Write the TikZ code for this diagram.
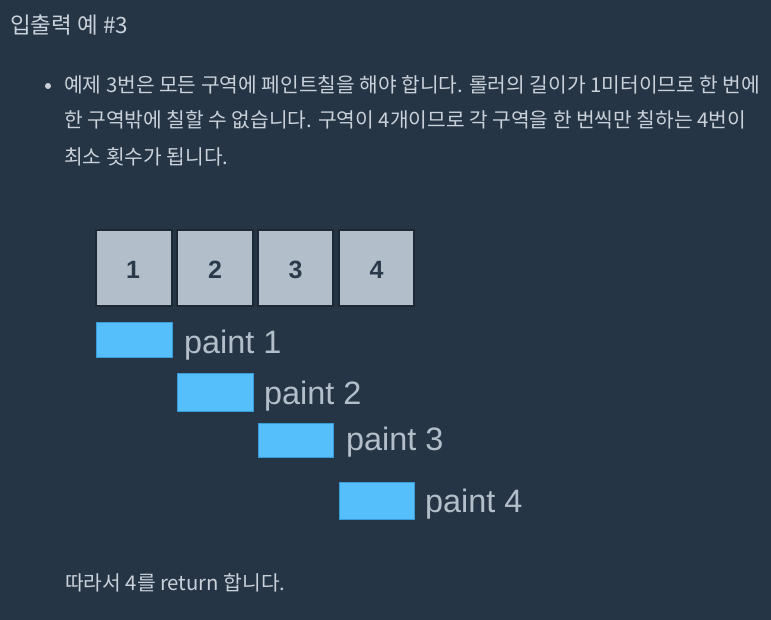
\documentclass[tikz,border=0pt]{standalone}
\usepackage{fontspec}
\setmainfont{Liberation Sans}
\newfontfamily\kr{Noto Sans CJK KR}
\definecolor{bgc}{HTML}{263546}
\definecolor{txt}{HTML}{C9D1DA}
\definecolor{lbl}{HTML}{B2BECA}
\definecolor{cellfill}{HTML}{B2BFCB}
\definecolor{celledge}{HTML}{1D2836}
\definecolor{num}{HTML}{2B3A4B}
\definecolor{paintfill}{HTML}{55BFFC}
\definecolor{paintedge}{HTML}{3B9BD6}
\tikzset{
  krtext/.style={inner sep=0pt, anchor=base west, text=txt, font=\kr\fontsize{20.3}{24}\selectfont},
  cell/.style={draw=celledge, line width=1.2pt, fill=cellfill, inner sep=0pt},
  cellnum/.style={text=num, font=\bfseries\fontsize{25}{30}\selectfont},
  paintbar/.style={draw=paintedge, line width=0.8pt, fill=paintfill},
  paintlbl/.style={inner sep=0pt, anchor=base west, text=lbl, font=\fontsize{32.4}{38}\selectfont},
}
\begin{document}
\begin{tikzpicture}[x=1pt,y=-1pt]
\fill[bgc] (0,0) rectangle (771,620);
\useasboundingbox (0,0) rectangle (771,620);
\node[krtext, font=\kr\fontsize{22.5}{26}\selectfont] (title) at (10,34) {입출력 예 \#3};
\fill[txt] (48,86) circle (3);
\node[krtext] (l1) at (64,93) {예제 3번은 모든 구역에 페인트칠을 해야 합니다. 롤러의 길이가 1미터이므로 한 번에};
\node[krtext] (l2) at (64,128) {한 구역밖에 칠할 수 없습니다. 구역이 4개이므로 각 구역을 한 번씩만 칠하는 4번이};
\node[krtext] (l3) at (64,165) {최소 횟수가 됩니다.};
% cells
\draw[cell] (96,230) rectangle (172,306);
\draw[cell] (177,230) rectangle (253,306);
\draw[cell] (258,230) rectangle (333,306);
\draw[cell] (339,230) rectangle (414,306);
\node[cellnum] (c1) at (133,270) {1};
\node[cellnum] (c2) at (215,270) {2};
\node[cellnum] (c3) at (295.5,270) {3};
\node[cellnum] (c4) at (376.5,270) {4};
% paints
\draw[paintbar] (96,322) rectangle (172,357);
\draw[paintbar] (177,373) rectangle (253,411);
\draw[paintbar] (258,423) rectangle (333,457);
\draw[paintbar] (339,482) rectangle (414,519);
\node[paintlbl] (p1) at (184,353) {paint 1};
\node[paintlbl] (p2) at (264,404) {paint 2};
\node[paintlbl] (p3) at (346,450) {paint 3};
\node[paintlbl] (p4) at (425,512) {paint 4};
\node[krtext] (last) at (65,590) {따라서 4를 return 합니다.};
\end{tikzpicture}
\end{document}
